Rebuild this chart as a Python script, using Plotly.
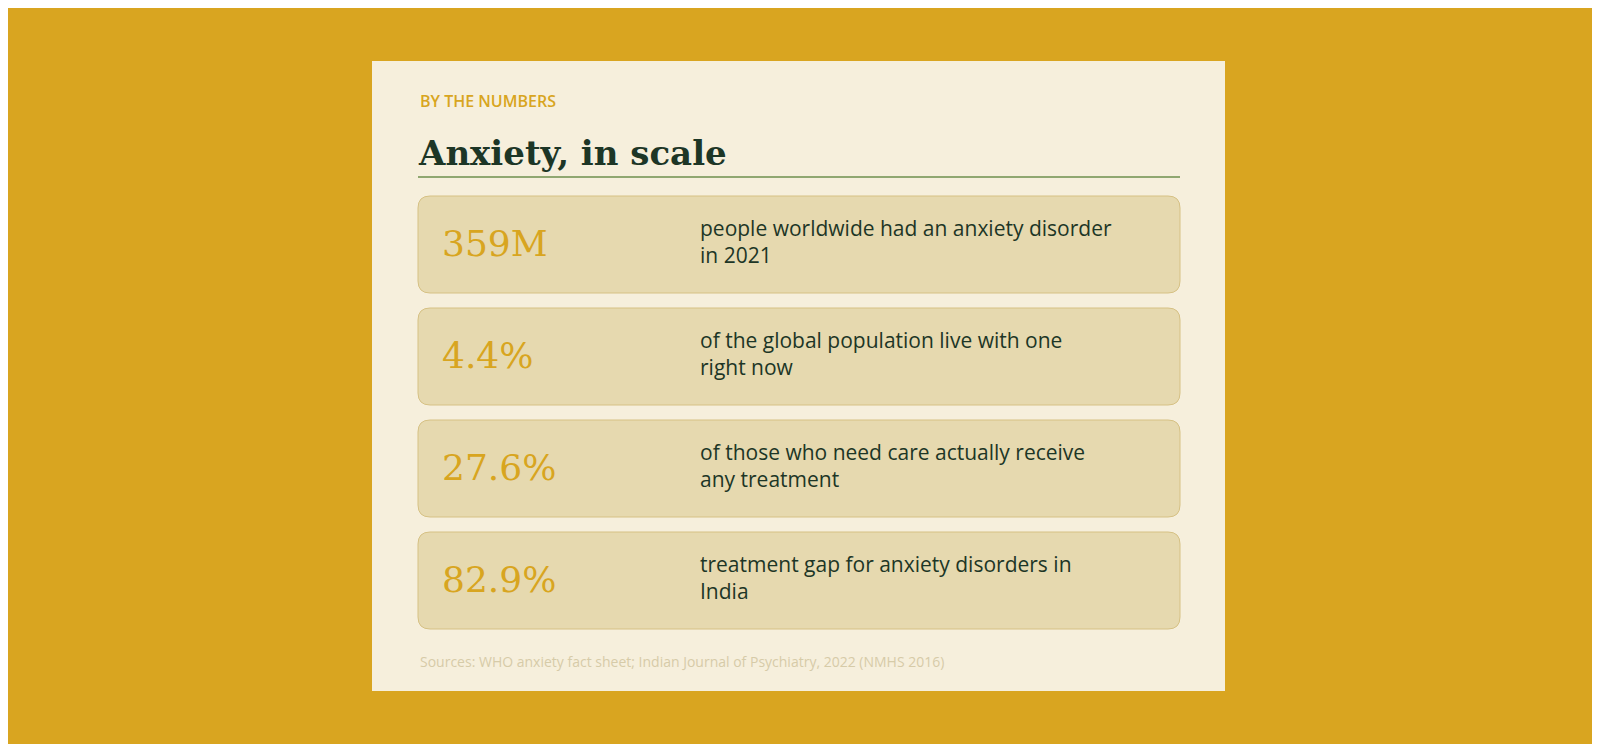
import plotly.graph_objects as go

kicker = "BY THE NUMBERS"
title = "Anxiety, in scale"
stats = ["359M", "4.4%", "27.6%", "82.9%"]
descriptions = [
    "people worldwide had an anxiety disorder<br>in 2021",
    "of the global population live with one<br>right now",
    "of those who need care actually receive<br>any treatment",
    "treatment gap for anxiety disorders in<br>India",
]
source = "Sources: WHO anxiety fact sheet; Indian Journal of Psychiatry, 2022 (NMHS 2016)"

W, H = 1600, 744
GOLD = "#D8A520"
DARK = "#1D3626"

def rrect(x0, y0, x1, y1, r):
    return (f"M{x0+r},{y0} L{x1-r},{y0} Q{x1},{y0} {x1},{y0+r} L{x1},{y1-r} Q{x1},{y1} {x1-r},{y1} "
            f"L{x0+r},{y1} Q{x0},{y1} {x0},{y1-r} L{x0},{y0+r} Q{x0},{y0} {x0+r},{y0} Z")

fig = go.Figure()
shapes = [
    dict(type="rect", x0=364, x1=1217, y0=53, y1=683, fillcolor="#F6EFDC", line_width=0, layer="below"),
    dict(type="line", x0=410, x1=1172, y0=169, y1=169, line=dict(color="#6E8F4E", width=1.5), layer="below"),
]
box_tops = [188, 300, 412, 524]
box_h = 97
for i, (s, d) in enumerate(zip(stats, descriptions)):
    t = box_tops[i]
    shapes.append(dict(type="path", path=rrect(410, t, 1172, t + box_h, 12), layer="below",
                       fillcolor="#E6D9AF", line=dict(color="#D6C184", width=1)))
    fig.add_trace(go.Scatter(x=[434], y=[t + box_h / 2 + 2], mode="text", text=[s],
                             textposition="middle right",
                             textfont=dict(family="DejaVu Serif", size=36, color=GOLD),
                             hoverinfo="skip", showlegend=False))
    fig.add_trace(go.Scatter(x=[692], y=[t + box_h / 2], mode="text", text=[d],
                             textposition="middle right",
                             textfont=dict(family="Open Sans", size=21, color=DARK),
                             hoverinfo="skip", showlegend=False))

annotations = [
    dict(x=410, y=93, text=kicker, showarrow=False, xanchor="left", yanchor="middle",
         font=dict(family="Open Sans", size=16, color=GOLD, weight=600)),
    dict(x=408, y=145, text=title, showarrow=False, xanchor="left", yanchor="middle",
         font=dict(family="DejaVu Serif", size=34, color=DARK, weight="bold")),
    dict(x=410, y=653, text=source, showarrow=False, xanchor="left", yanchor="middle",
         font=dict(family="Open Sans", size=14, color="#D6CBA8")),
]

fig.update_layout(
    width=W, height=H, margin=dict(l=0, r=0, t=0, b=0),
    paper_bgcolor="#D9A520", plot_bgcolor="#D9A520",
    xaxis=dict(range=[0, W], visible=False, fixedrange=True),
    yaxis=dict(range=[H, 0], visible=False, fixedrange=True),
    shapes=shapes, annotations=annotations, showlegend=False,
)
fig.write_html("out.html", config={"displayModeBar": False})
